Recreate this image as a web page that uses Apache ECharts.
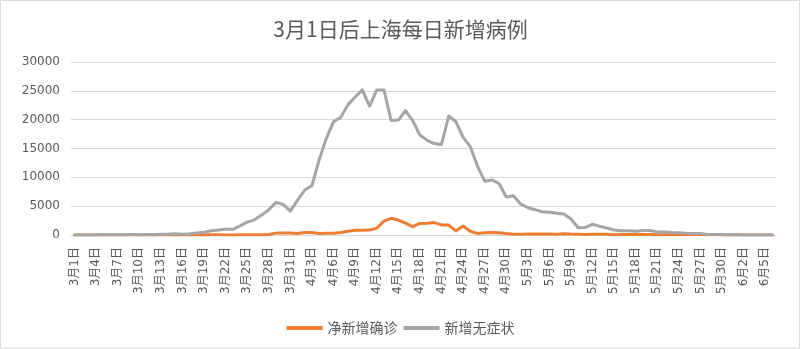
<!DOCTYPE html>
<html>
<head>
<meta charset="utf-8">
<script src="https://cdn.jsdelivr.net/npm/echarts@6/dist/echarts.min.js"></script>
<style>
html,body{margin:0;padding:0;background:#fff;}
#chart{width:801px;height:349px;}
</style>
</head>
<body>
<div id="chart"></div>
<script>
const titleText = '3月1日后上海每日新增病例';
const seriesNames = ['净新增确诊', '新增无症状'];
const categories = [
'3月1日','3月2日','3月3日','3月4日','3月5日','3月6日','3月7日','3月8日','3月9日','3月10日',
'3月11日','3月12日','3月13日','3月14日','3月15日','3月16日','3月17日','3月18日','3月19日','3月20日',
'3月21日','3月22日','3月23日','3月24日','3月25日','3月26日','3月27日','3月28日','3月29日','3月30日',
'3月31日','4月1日','4月2日','4月3日','4月4日','4月5日','4月6日','4月7日','4月8日','4月9日',
'4月10日','4月11日','4月12日','4月13日','4月14日','4月15日','4月16日','4月17日','4月18日','4月19日',
'4月20日','4月21日','4月22日','4月23日','4月24日','4月25日','4月26日','4月27日','4月28日','4月29日',
'4月30日','5月1日','5月2日','5月3日','5月4日','5月5日','5月6日','5月7日','5月8日','5月9日',
'5月10日','5月11日','5月12日','5月13日','5月14日','5月15日','5月16日','5月17日','5月18日','5月19日',
'5月20日','5月21日','5月22日','5月23日','5月24日','5月25日','5月26日','5月27日','5月28日','5月29日',
'5月30日','5月31日','6月1日','6月2日','6月3日','6月4日','6月5日','6月6日'
];
// 净新增确诊
const confirmedNet = [
0,0,2,3,0,3,4,3,4,11,
5,1,41,9,5,8,57,8,17,24,
31,4,4,29,38,45,50,96,326,355,
358,260,438,425,268,311,322,450,650,820,
830,850,1200,2400,2900,2600,2050,1450,2000,2050,
2150,1750,1720,700,1560,650,280,380,420,400,
260,150,150,160,170,160,170,150,200,160,
150,100,150,130,110,60,77,96,82,88,
84,52,55,58,48,45,39,45,29,31,
20,5,15,10,4,2,4,4
];
// 新增无症状
const asymptomatic = [
1,3,14,16,28,45,51,62,76,64,
78,64,128,130,197,150,203,366,492,734,
865,977,979,1580,2231,2631,3450,4381,5656,5298,
4144,6051,7788,8581,13086,16766,19660,20398,22609,23937,
25173,22348,25141,25146,19872,19923,21582,19831,17332,16407,
15861,15698,20634,19657,16983,15319,11956,9330,9545,8932,
6606,6804,5395,4722,4390,4024,3961,3760,3625,2780,
1259,1305,1869,1487,1203,869,746,727,637,770,
784,538,503,422,396,299,251,245,93,90,
77,10,78,5,2,6,3,11
];
const yTicks = {min: 0, max: 30000, interval: 5000};

const font = "'DejaVu Sans','Noto Sans CJK SC',sans-serif";
const chart = echarts.init(document.getElementById('chart'), null, {renderer: 'canvas'});
chart.setOption({
  animation: false,
  backgroundColor: '#fff',
  textStyle: {fontFamily: font},
  graphic: [{
    type: 'rect', silent: true, z: -1,
    shape: {x: 0.5, y: 0.5, width: 799, height: 347.5},
    style: {fill: 'none', stroke: '#d9d9d9', lineWidth: 1}
  }],
  title: {
    text: titleText, left: 'center', top: 14,
    textStyle: {fontSize: 21, fontWeight: 'normal', color: '#595959', fontFamily: "'Noto Sans CJK SC',sans-serif"}
  },
  legend: {
    data: seriesNames, left: 'center', top: 316,
    icon: 'rect', itemWidth: 36, itemHeight: 4, itemGap: 6,
    textStyle: {fontSize: 14, color: '#595959', fontFamily: "'Noto Sans CJK SC',sans-serif"}
  },
  grid: {left: 71, right: 25, top: 62, bottom: 114, containLabel: false},
  xAxis: {
    type: 'category', data: categories, boundaryGap: true,
    axisLine: {lineStyle: {color: '#d9d9d9', width: 1}},
    axisTick: {show: false},
    axisLabel: {interval: 2, rotate: 90, margin: 12, fontSize: 12, color: '#595959', fontFamily: font}
  },
  yAxis: {
    type: 'value', min: yTicks.min, max: yTicks.max, interval: yTicks.interval,
    axisLine: {show: false}, axisTick: {show: false},
    splitLine: {lineStyle: {color: '#d9d9d9', width: 1}},
    axisLabel: {fontSize: 12, color: '#595959', margin: 11, fontFamily: font,
      formatter: function (v) { return String(v); }}
  },
  series: [
    {name: seriesNames[0], type: 'line', data: confirmedNet, showSymbol: false, symbol: 'none',
     lineStyle: {color: '#ED7D31', width: 3, cap: 'round', join: 'round'}, itemStyle: {color: '#ED7D31'}, z: 2},
    {name: seriesNames[1], type: 'line', data: asymptomatic, showSymbol: false, symbol: 'none',
     lineStyle: {color: '#A5A5A5', width: 3, cap: 'round', join: 'round'}, itemStyle: {color: '#A5A5A5'}, z: 3}
  ]
});
</script>
</body>
</html>
